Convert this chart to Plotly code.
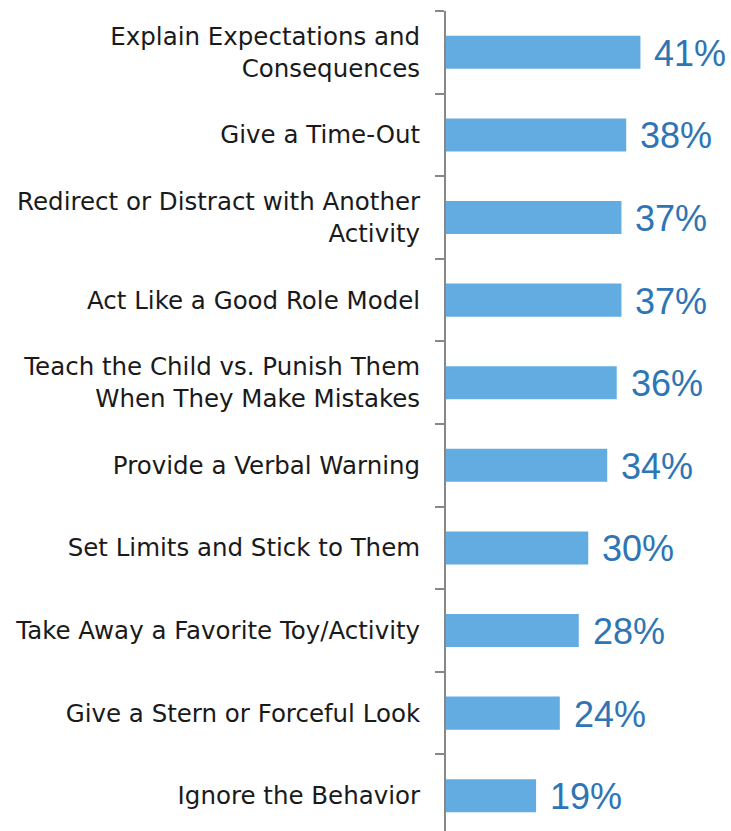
import plotly.graph_objects as go

# Discipline approaches, listed top to bottom
categories = [
    "Explain Expectations and<br>Consequences",
    "Give a Time-Out",
    "Redirect or Distract with Another<br>Activity",
    "Act Like a Good Role Model",
    "Teach the Child vs. Punish Them<br>When They Make Mistakes",
    "Provide a Verbal Warning",
    "Set Limits and Stick to Them",
    "Take Away a Favorite Toy/Activity",
    "Give a Stern or Forceful Look",
    "Ignore the Behavior",
]
values = [41, 38, 37, 37, 36, 34, 30, 28, 24, 19]

bar_color = "#62ACE2"
label_color = "#2E75B6"

fig = go.Figure(
    go.Bar(
        x=values,
        y=categories,
        orientation="h",
        marker=dict(color=bar_color, line=dict(width=0)),
        width=0.4,
        hoverinfo="skip",
    )
)

for cat, v in zip(categories, values):
    fig.add_annotation(
        x=v, y=cat, text=f"{v}%", showarrow=False,
        xanchor="left", yanchor="middle", xshift=12, yshift=-1,
        font=dict(family="Liberation Sans, Arial, sans-serif", size=36, color=label_color),
    )

fig.update_layout(
    width=731, height=831,
    margin=dict(l=446, r=0, t=11, b=0),
    plot_bgcolor="white", paper_bgcolor="white",
    showlegend=False,
    bargap=0.6,
    xaxis=dict(range=[0, 60.1], visible=False, fixedrange=True),
    yaxis=dict(
        type="category",
        range=[9.427, -0.5],
        showline=True, linecolor="#878787", linewidth=2,
        ticks="outside", tickson="boundaries", ticklen=9, tickcolor="#878787", tickwidth=2,
        showgrid=False,
        tickfont=dict(family="DejaVu Sans, sans-serif", size=24.5, color="#1a1a1a"),
        ticklabelstandoff=19,
        fixedrange=True,
    ),
)

fig.write_html("out.html")
